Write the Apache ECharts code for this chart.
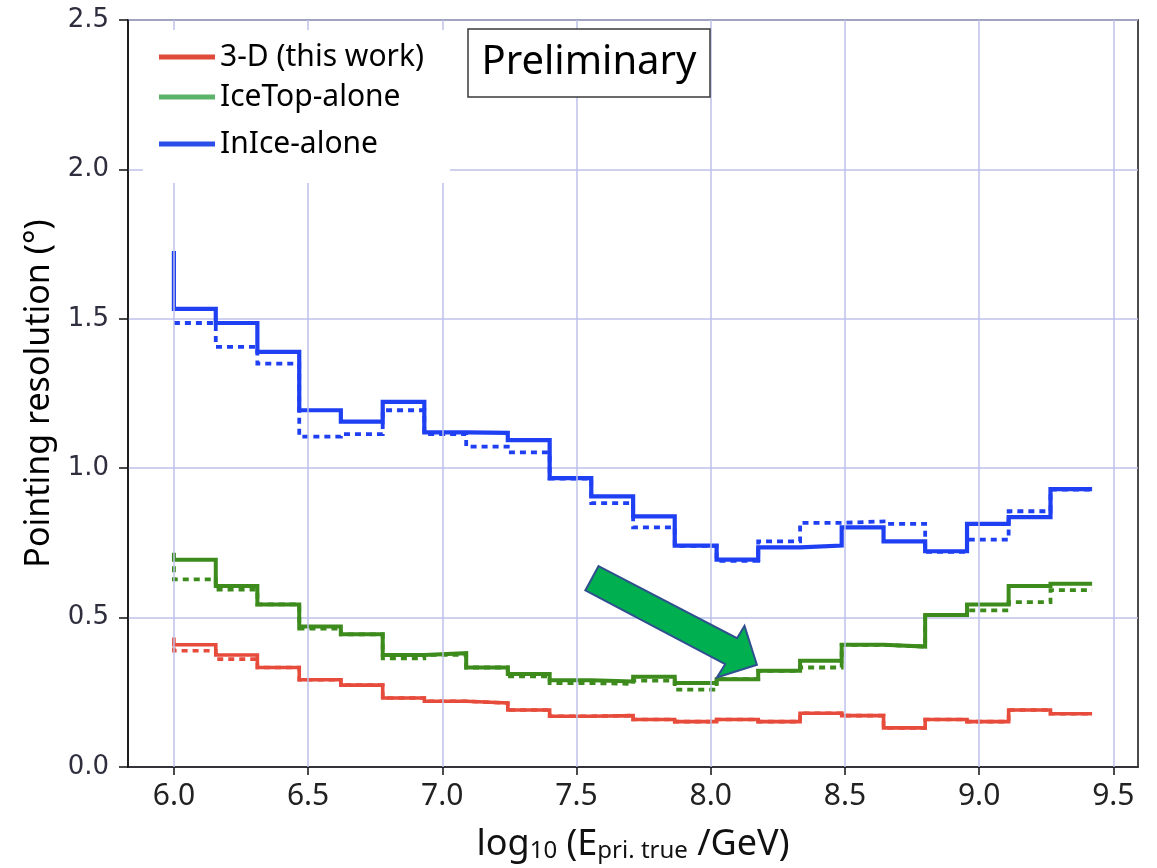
<!DOCTYPE html>
<html><head><meta charset="utf-8">
<script src="https://cdn.jsdelivr.net/npm/echarts@6/dist/echarts.min.js"></script>
<style>html,body{margin:0;padding:0;background:#fff}#c{width:1157px;height:868px}</style>
</head><body><div id="c"></div>
<script>
// bin edges of the step histograms (log10 E)
const binEdges = [6.000, 6.156, 6.311, 6.467, 6.622, 6.778, 6.933, 7.089, 7.244, 7.400, 7.555, 7.711,
                  7.866, 8.022, 8.177, 8.333, 8.488, 8.644, 8.799, 8.955, 9.110, 9.266, 9.421];
const xTicks = [6.0, 6.5, 7.0, 7.5, 8.0, 8.5, 9.0, 9.5];
// first value = start point at 6.0, then one value per bin
const threeDSolid   = [0.433, 0.409, 0.375, 0.333, 0.292, 0.274, 0.231, 0.220, 0.214, 0.191, 0.170, 0.172,
                       0.159, 0.152, 0.159, 0.152, 0.180, 0.172, 0.131, 0.159, 0.152, 0.191, 0.178];
const threeDDashed  = [0.400, 0.389, 0.361, 0.333, 0.292, 0.274, 0.231, 0.220, 0.214, 0.191, 0.170, 0.172,
                       0.159, 0.152, 0.159, 0.152, 0.180, 0.172, 0.131, 0.159, 0.152, 0.191, 0.178];
const iceTopSolid   = [0.717, 0.694, 0.606, 0.544, 0.470, 0.444, 0.375, 0.381, 0.333, 0.311, 0.290, 0.286,
                       0.302, 0.281, 0.294, 0.322, 0.356, 0.409, 0.403, 0.509, 0.544, 0.606, 0.613];
const iceTopDashed  = [0.672, 0.628, 0.594, 0.544, 0.463, 0.444, 0.364, 0.375, 0.333, 0.303, 0.281, 0.278,
                       0.289, 0.259, 0.294, 0.322, 0.333, 0.409, 0.403, 0.509, 0.524, 0.552, 0.592];
const inIceSolid    = [1.727, 1.533, 1.486, 1.389, 1.194, 1.156, 1.222, 1.120, 1.118, 1.094, 0.967, 0.906,
                       0.839, 0.741, 0.694, 0.735, 0.741, 0.802, 0.755, 0.722, 0.814, 0.836, 0.930];
const inIceDashed   = [1.486, 1.486, 1.406, 1.350, 1.106, 1.114, 1.194, 1.114, 1.072, 1.053, 0.965, 0.883,
                       0.802, 0.740, 0.690, 0.755, 0.817, 0.822, 0.814, 0.720, 0.761, 0.856, 0.928];
const seriesNames = ['3-D (this work)', 'IceTop-alone', 'InIce-alone'];
// annotation arrow outline in data coordinates
const arrowOutline = [[7.582,0.672],[8.098,0.431],[8.126,0.472],[8.172,0.342],[8.023,0.300],[8.054,0.344],[7.533,0.591]];

const RED = '#e64b3b', GREEN = '#3d8b1c', BLUE = '#1f3ff3';
const GRIDC = '#bcc0e8';

function pairs(vals){ return binEdges.map((e,i)=>[e, vals[i]]); }
function stepSeries(name, vals, color, dashed, z, w){
  return {
    name: name, type: 'line', step: 'start', data: pairs(vals), symbol: 'none', z: z,
    lineStyle: {color: color, width: w, type: dashed ? [6,5] : 'solid', cap: 'butt', join: 'miter'},
    itemStyle: {color: color}, silent: true
  };
}

const chart = echarts.init(document.getElementById('c'), null, {renderer: 'canvas'});
const legendText = {fontFamily: 'Noto Sans', fontSize: 30, color: '#000', lineHeight: 36};
function oneLegend(name, color, top){
  return {data: [{name: name, icon: 'rect', itemStyle: {color: color}}], left: 159, top: top,
          orient: 'vertical', itemWidth: 56, itemHeight: 5, itemGap: 0, itemTextGap: 18, padding: 0,
          textStyle: legendText, selectedMode: false, z: 6};
}

const option = {
  animation: false,
  grid: {left: 128, right: 19, top: 20, bottom: 98, show: true, borderColor: '#111', borderWidth: 1.5,
         backgroundColor: 'transparent'},
  legend: [
    oneLegend(seriesNames[0], '#e04b3a', 39),
    oneLegend(seriesNames[1], '#5cb46a', 79),
    oneLegend(seriesNames[2], '#2a4ee8', 126)
  ],
  xAxis: {
    type: 'value', min: 5.829, max: 9.592,
    axisLine: {show: true, onZero: false, lineStyle: {color: '#111', width: 1.5}},
    axisTick: {show: true, length: 8, customValues: xTicks, lineStyle: {color: '#111', width: 1.5}},
    axisLabel: {customValues: xTicks, formatter: v => v.toFixed(1), fontFamily: 'Noto Sans', fontSize: 30,
                color: '#222', margin: 14},
    splitLine: {show: false},
    name: '{a|log}{s|10}{a| (E}{s|pri. true}{a| /GeV)}',
    nameLocation: 'middle', nameGap: 52,
    nameTextStyle: {
      rich: {
        a: {fontFamily: 'Noto Sans', fontSize: 36, color: '#111', lineHeight: 44, verticalAlign: 'bottom'},
        s: {fontFamily: 'Noto Sans', fontSize: 24, color: '#111', lineHeight: 22, verticalAlign: 'bottom'}
      }
    }
  },
  yAxis: {
    type: 'value', min: 0, max: 2.5, interval: 0.5,
    axisLine: {show: true, lineStyle: {color: '#111', width: 1.5}},
    axisTick: {show: true, length: 9, lineStyle: {color: '#111', width: 1.5}},
    axisLabel: {formatter: v => v.toFixed(1), fontFamily: 'DejaVu Sans', fontSize: 26, color: '#2e2e3e', margin: 19},
    splitLine: {show: true, lineStyle: {color: GRIDC, width: 1.5}},
    name: 'Pointing resolution (°)', nameLocation: 'middle', nameGap: 72, nameRotate: 90,
    nameTextStyle: {fontFamily: 'Noto Sans', fontSize: 34, color: '#000'}
  },
  series: [
    {
      name: 'grid-x', type: 'line', data: [[6.0, 0]], symbol: 'none', z: 1, silent: true,
      lineStyle: {opacity: 0},
      markLine: {silent: true, symbol: ['none','none'], label: {show: false}, animation: false,
                 lineStyle: {color: GRIDC, width: 1.5, type: 'solid'},
                 data: xTicks.map(v => ({xAxis: v}))}
    },
    stepSeries(seriesNames[0], threeDSolid, RED, false, 3, 3.6),
    stepSeries(seriesNames[1], iceTopSolid, GREEN, false, 3, 4),
    stepSeries(seriesNames[2], inIceSolid, BLUE, false, 3, 4.2),
    stepSeries('3-D dashed', threeDDashed, RED, true, 4, 3.6),
    stepSeries('IceTop dashed', iceTopDashed, GREEN, true, 4, 3.8),
    stepSeries('InIce dashed', inIceDashed, BLUE, true, 4, 3.8)
  ]
};
chart.setOption(option);

const arrowPts = arrowOutline.map(p => chart.convertToPixel({gridIndex: 0}, p));
chart.setOption({
  graphic: [
    {type: 'rect', z: 5, silent: true, shape: {x: 143, y: 30, width: 307, height: 153},
     style: {fill: '#ffffff'}},
    {type: 'rect', z: 10, silent: true, shape: {x: 468, y: 29, width: 242, height: 68},
     style: {fill: '#ffffff', stroke: '#3a3a3a', lineWidth: 1.5}},
    {type: 'text', z: 11, silent: true,
     style: {text: 'Preliminary', x: 589, y: 63, align: 'center', verticalAlign: 'middle',
             textAlign: 'center', textVerticalAlign: 'middle', font: '40px "Noto Sans"', fill: '#000'}},
    {type: 'polygon', z: 10, silent: true, shape: {points: arrowPts},
     style: {fill: '#00b050', stroke: '#2f4f8f', lineWidth: 2}}
  ]
});
</script></body></html>
